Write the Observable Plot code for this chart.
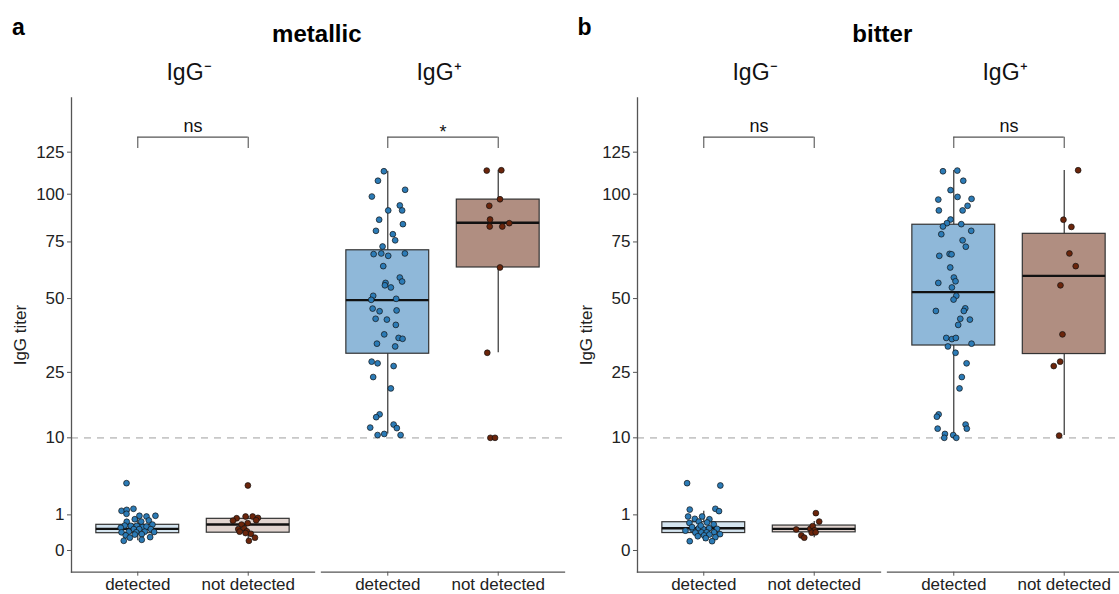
<!DOCTYPE html>
<html><head><meta charset="utf-8">
<script src="https://cdn.jsdelivr.net/npm/d3@7"></script>
<script src="https://cdn.jsdelivr.net/npm/@observablehq/plot@0.6"></script>
<style>
body{margin:0;background:#fff;}
#wrap{position:relative;width:1119px;height:594px;overflow:hidden;font-family:"Liberation Sans",Arial,sans-serif;color:#000;}
.panel{position:absolute;top:0;width:565px;height:594px;}
.panel svg{max-width:none !important;}
.tag{position:absolute;font-weight:bold;font-size:23px;line-height:23px;}
.title{position:absolute;font-weight:bold;font-size:24px;line-height:24px;transform:translateX(-50%);white-space:nowrap;}
</style></head><body><div id="wrap"></div>
<script>
// categories
const groups = ["detected", "not detected"];
const strata = ["IgG⁻", "IgG⁺"];
const yTicks = [0, 1, 10, 25, 50, 75, 100, 125];
const panelTitles = ["metallic", "bitter"];
const panelTags = ["a", "b"];

// points: [jitter (in group units), IgG titer]
const metallic_neg_det = [[-0.102,3.57],[-0.147,1.24],[-0.100,1.30],[-0.039,1.37],[-0.102,1.06],[0.015,0.95],[0.079,0.91],[0.160,0.95],[-0.027,0.77],[-0.100,0.65],[0.100,0.71],[0.031,0.66],[0.133,0.53],[-0.118,0.49],[-0.063,0.48],[-0.009,0.48],[0.043,0.43],[0.079,0.45],[-0.154,0.41],[-0.036,0.36],[0.013,0.36],[0.118,0.36],[-0.147,0.26],[-0.081,0.28],[-0.014,0.26],[0.063,0.28],[0.148,0.27],[-0.109,0.18],[-0.027,0.20],[0.036,0.21],[0.112,0.14],[-0.072,0.13],[-0.127,0.074],[0.036,0.09]];
const metallic_neg_nd = [[-0.003,3.33],[-0.105,0.82],[-0.024,0.91],[0.040,0.91],[0.088,0.84],[0.072,0.72],[-0.138,0.70],[-0.060,0.53],[-0.005,0.59],[-0.090,0.36],[-0.036,0.38],[-0.012,0.29],[-0.078,0.28],[0.024,0.22],[-0.024,0.24],[0.061,0.13],[0.006,0.074]];
const metallic_pos_det = [[-0.035,113.3],[-0.089,107.7],[0.157,102.5],[-0.144,98.7],[0.109,93.8],[0.130,91.1],[0.004,91.1],[-0.078,86.2],[0.137,83.9],[-0.107,80.5],[0.046,78.8],[0.067,75.8],[-0.047,72.8],[-0.128,69.2],[-0.059,69.5],[0.004,68.4],[0.155,69.5],[-0.041,63.7],[0.109,58.7],[0.130,57.0],[-0.020,56.4],[-0.026,55.4],[0.028,54.5],[-0.132,51.1],[-0.150,49.5],[0.076,49.9],[-0.137,46.1],[-0.074,45.1],[0.080,45.4],[-0.110,42.3],[-0.008,42.0],[0.073,40.1],[-0.032,36.8],[0.098,35.6],[0.134,35.3],[-0.098,33.7],[0.067,32.8],[-0.146,28.1],[-0.092,27.6],[0.053,26.8],[-0.132,23.7],[0.028,20.7],[-0.074,14.6],[-0.105,14.0],[-0.159,11.9],[0.053,12.5],[0.082,11.8],[-0.092,10.5],[-0.032,10.7],[0.116,10.5]];
const metallic_pos_nd = [[-0.104,113.7],[0.028,113.9],[0.016,97.2],[-0.081,93.6],[-0.074,86.3],[-0.077,82.7],[0.037,82.7],[0.100,84.4],[0.016,63.1],[-0.099,30.8],[-0.071,10.0],[-0.029,10.0]];
const bitter_neg_det = [[-0.151,3.57],[0.150,3.33],[-0.127,1.32],[0.105,1.37],[0.138,1.22],[-0.142,0.91],[-0.015,0.91],[-0.081,0.79],[0.051,0.77],[-0.130,0.60],[-0.045,0.66],[0.030,0.62],[0.090,0.54],[-0.166,0.31],[-0.103,0.36],[-0.045,0.39],[-0.004,0.36],[0.048,0.39],[0.120,0.37],[-0.076,0.25],[-0.022,0.26],[0.027,0.26],[0.093,0.26],[0.147,0.21],[0.003,0.18],[0.051,0.20],[-0.054,0.16],[0.105,0.14],[0.018,0.12],[-0.127,0.068],[0.075,0.068],[-0.106,0.43],[-0.027,0.49]];
const bitter_neg_nd = [[0.015,1.10],[0.045,0.66],[-0.163,0.35],[-0.117,0.18],[-0.090,0.13],[-0.036,0.37],[-0.014,0.47],[0.004,0.32],[-0.023,0.25],[0.013,0.26]];
const bitter_pos_det = [[-0.098,113.3],[0.032,113.7],[0.086,107.7],[-0.029,102.3],[-0.140,97.0],[0.034,98.5],[0.161,97.4],[0.125,93.6],[-0.135,91.1],[0.080,91.1],[-0.029,86.3],[-0.062,84.4],[-0.098,82.7],[0.068,83.9],[0.158,80.5],[-0.113,78.8],[0.080,75.8],[0.109,72.7],[-0.131,68.4],[-0.038,69.3],[-0.020,69.1],[-0.032,63.1],[0.001,58.7],[0.016,57.1],[-0.140,56.4],[-0.017,54.5],[0.023,51.1],[-0.002,49.6],[-0.162,45.2],[0.104,46.2],[0.091,45.2],[0.059,42.3],[0.146,42.0],[0.040,40.1],[-0.068,35.6],[-0.017,35.2],[0.019,35.6],[-0.053,32.8],[0.161,33.7],[0.016,30.8],[0.116,27.6],[0.073,23.7],[0.052,20.7],[-0.137,14.6],[-0.153,14.1],[-0.146,11.7],[0.107,12.5],[0.118,11.7],[-0.080,10.7],[-0.086,10.0],[-0.005,10.5],[0.023,10.0]];
const bitter_pos_nd = [[0.126,113.9],[-0.007,86.2],[0.065,82.5],[0.047,69.5],[0.104,63.7],[-0.034,55.4],[-0.016,36.8],[-0.037,28.1],[-0.095,26.8],[-0.046,10.4]];

// box statistics [lower whisker, Q1, median, Q3, upper whisker]
// order: IgG- detected, IgG- not detected, IgG+ detected, IgG+ not detected
const metallic_stats = [[0.074,0.236,0.37,0.52,0.95],[0.074,0.25,0.53,0.79,0.91],[10.7,30.5,49.4,71.0,113.3],[30.8,63.1,84.6,97.0,113.9]];
const bitter_stats = [[0.068,0.24,0.39,0.63,1.22],[0.13,0.26,0.37,0.49,0.66],[10.4,33.1,52.6,83.6,113.7],[10.4,30.4,59.4,79.0,113.7]];

// significance labels per stratum
const metallic_sig = ["ns", "*"];
const bitter_sig = ["ns", "ns"];
const bracketTop = 134.6, bracketTip = 127.3, threshold = 10;

// colours
const dotColor = ["#2c7bb6", "#6b250b"];
const boxColor = [["#d5e5f0", "#e1d4cf"], ["#8fb8d9", "#b08e81"]]; // [stratum][group]

function build(stats, sets, sig) {
  const cells = [];
  strata.forEach((s, si) => groups.forEach((g, gi) => cells.push({s, si, g, gi})));
  const boxes = cells.map((c, k) => ({fx: c.s, i: c.gi + 1, lo: stats[k][0], q1: stats[k][1], med: stats[k][2], q3: stats[k][3], hi: stats[k][4], fill: boxColor[c.si][c.gi]}));
  const pts = cells.flatMap((c, k) => sets[k].map(([j, v]) => ({fx: c.s, i: c.gi + 1, j, v, fill: dotColor[c.gi]})));
  const sigs = strata.map((s, k) => ({fx: s, label: sig[k]}));
  const ticks = sigs.flatMap(d => [1, 2].map(i => ({...d, i})));
  return Plot.plot({
    width: 565, height: 594,
    marginLeft: 70, marginRight: 1.4, marginTop: 97.5, marginBottom: 22.3,
    style: {fontFamily: "Liberation Sans, Arial, sans-serif", color: "#222", background: "white", overflow: "visible"},
    fx: {domain: strata, paddingInner: 0.03, paddingOuter: 0},
    x: {type: "linear", domain: [0.4, 2.6]},
    y: {type: "sqrt", domain: [-0.371, 161.3]},
    marks: [
      Plot.ruleY([threshold], {stroke: "#c8c8c8", strokeWidth: 1.6, strokeDasharray: "7,6"}),
      Plot.ruleX(boxes, {fx: "fx", x: "i", y1: "lo", y2: "hi", stroke: "#333", strokeWidth: 1.2}),
      Plot.rect(boxes, {fx: "fx", x1: d => d.i - 0.375, x2: d => d.i + 0.375, y1: "q1", y2: "q3", fill: "fill", stroke: "#333", strokeWidth: 1.2}),
      Plot.ruleY(boxes, {fx: "fx", x1: d => d.i - 0.375, x2: d => d.i + 0.375, y: "med", stroke: "#111", strokeWidth: 2.4}),
      Plot.dot(pts, {fx: "fx", x: d => d.i + d.j, y: "v", r: 2.9, fill: "fill", stroke: "#111", strokeWidth: 0.7}),
      Plot.ruleY(sigs, {fx: "fx", x1: 1, x2: 2, y: bracketTop, stroke: "#555", strokeWidth: 1.1}),
      Plot.ruleX(ticks, {fx: "fx", x: "i", y1: bracketTip, y2: bracketTop, stroke: "#555", strokeWidth: 1.1}),
      Plot.text(sigs.filter(d => d.label !== "*"), {fx: "fx", x: 1.5, y: bracketTop, text: "label", lineAnchor: "bottom", dy: -5, fontSize: 18, fill: "#111"}),
      Plot.text(sigs.filter(d => d.label === "*"), {fx: "fx", x: 1.5, y: bracketTop, text: "label", lineAnchor: "bottom", dy: 1, fontSize: 18, fill: "#111"}),
      Plot.frame({anchor: "left", facetAnchor: "left", stroke: "#555", strokeWidth: 1.3}),
      Plot.frame({anchor: "bottom", stroke: "#555", strokeWidth: 1.3}),
      Plot.axisY({ticks: yTicks, tickSize: 4, tickPadding: 3, fontSize: 17, stroke: "#555", label: "IgG titer", labelAnchor: "center", labelArrow: "none", labelOffset: 58}),
      Plot.axisX({ticks: [1, 2], tickFormat: d => groups[d - 1], tickSize: 4, tickPadding: 1.5, fontSize: 17, stroke: "#555", label: null}),
      Plot.axisFx({anchor: "top", tickSize: 0, tickPadding: 18, fontSize: 23, label: null, dx: -4, fill: "#111"})
    ]
  });
}

const wrap = document.getElementById("wrap");
const panels = [
  build(metallic_stats, [metallic_neg_det, metallic_neg_nd, metallic_pos_det, metallic_pos_nd], metallic_sig),
  build(bitter_stats, [bitter_neg_det, bitter_neg_nd, bitter_pos_det, bitter_pos_nd], bitter_sig)
];
const offsets = [0, 565.5];
panels.forEach((p, k) => {
  const d = document.createElement("div");
  d.className = "panel";
  d.style.left = offsets[k] + "px";
  d.appendChild(p);
  wrap.appendChild(d);
  const tag = document.createElement("div");
  tag.className = "tag";
  tag.textContent = panelTags[k];
  tag.style.left = (offsets[k] + 12) + "px";
  tag.style.top = "16px";
  wrap.appendChild(tag);
  const t = document.createElement("div");
  t.className = "title";
  t.textContent = panelTitles[k];
  t.style.left = (offsets[k] + 316.8) + "px";
  t.style.top = "22px";
  wrap.appendChild(t);
});
</script></body></html>
